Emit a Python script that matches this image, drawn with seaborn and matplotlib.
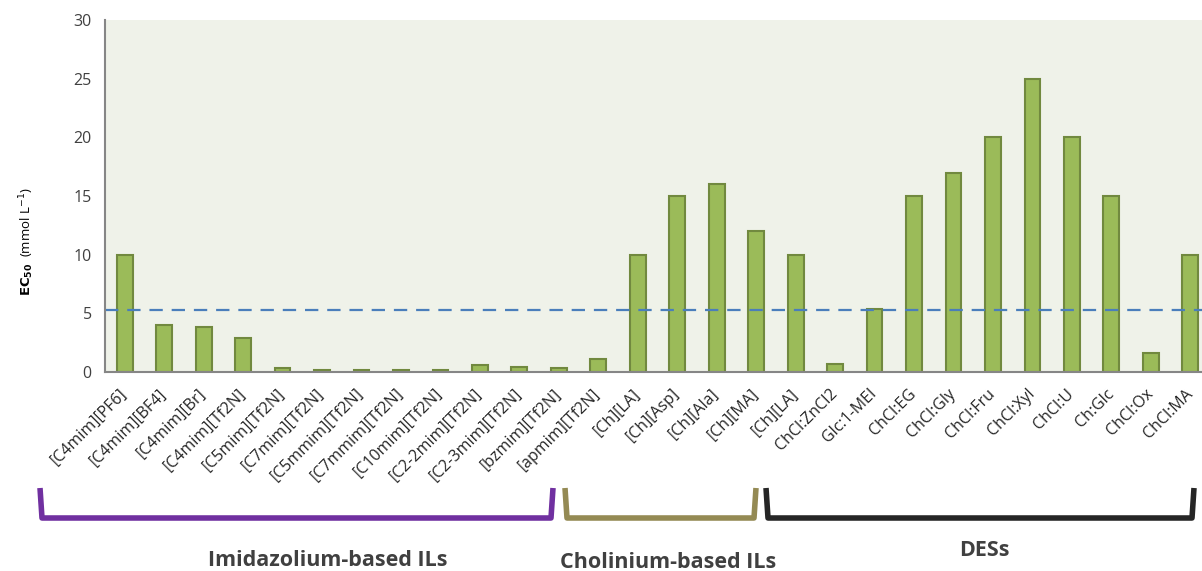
import numpy as np
import pandas as pd
import matplotlib.pyplot as plt
import seaborn as sns
from matplotlib.lines import Line2D

# EC50 values (mmol/L)
compounds = ["[C4mim][PF6]", "[C4mim][BF4]", "[C4mim][Br]", "[C4mim][Tf2N]", "[C5mim][Tf2N]",
             "[C7mim][Tf2N]", "[C5mmim][Tf2N]", "[C7mmim][Tf2N]", "[C10mim][Tf2N]",
             "[C2-2mim][Tf2N]", "[C2-3mim][Tf2N]", "[bzmim][Tf2N]", "[apmim][Tf2N]",
             "[Ch][LA]", "[Ch][Asp]", "[Ch][Ala]", "[Ch][MA]", "[Ch][LA]",
             "ChCl:ZnCl2", "Glc:1-MEI", "ChCl:EG", "ChCl:Gly", "ChCl:Fru", "ChCl:Xyl",
             "ChCl:U", "Ch:Glc", "ChCl:Ox", "ChCl:MA"]
ec50 = [10, 4, 3.85, 2.9, 0.3,
        0.15, 0.15, 0.15, 0.15,
        0.6, 0.45, 0.3, 1.1,
        10, 15, 16, 12, 10,
        0.65, 5.4, 15, 17, 20, 25,
        20, 15, 1.65, 10]
threshold = 5.3

groups = ["Imidazolium-based ILs", "Cholinium-based ILs", "DESs"]
group_colors = ["#7030a0", "#948a54", "#262626"]

df = pd.DataFrame({"idx": np.arange(len(compounds)), "ec50": ec50})

sns.set_style("white")
plt.rcParams['font.family'] = ['Open Sans', 'DejaVu Sans']

fig = plt.figure(figsize=(12.02, 5.71), dpi=100)
ax = fig.add_axes([105 / 1202, 1 - 372 / 571, 1105 / 1202, 352 / 571])
ax.set_facecolor("#eff2e9")

sns.barplot(data=df, x="idx", y="ec50", color="#9bbb59", saturation=1,
            width=0.4, edgecolor="#71893f", linewidth=1.5, ax=ax)
ax.axhline(threshold, color="#4a7ebb", lw=1.6, ls=(0, (6, 4)))

ax.set_ylim(0, 30)
ax.set_xlim(-0.5, len(compounds) - 0.5)
ax.set_yticks(range(0, 31, 5))
ax.set_xticks(range(len(compounds)))
ax.set_xticklabels(compounds, rotation=45, ha="right", va="center",
                   rotation_mode="anchor", fontsize=11.5, color="#262626")
ax.set_xticks(np.arange(-0.5, len(compounds)), minor=True)
ax.tick_params(axis="x", which="major", length=0, pad=14)
ax.tick_params(axis="x", which="minor", length=6, color="#868686", width=1.2)
ax.tick_params(axis="y", length=6, color="#868686", width=1.2, labelsize=11.5,
               labelcolor="#404040")
for s in ["top", "right"]:
    ax.spines[s].set_visible(False)
for s in ["left", "bottom"]:
    ax.spines[s].set_color("#868686")
    ax.spines[s].set_linewidth(1.5)
ax.set_xlabel("")
ax.set_ylabel(r"$\mathbf{EC_{50}}$  (mmol L$^{-1}$)", fontsize=9.5, color="#000000")
ax.yaxis.set_label_coords(-0.062, 0.37)

# group brackets below the axis
W, H = 1202, 571
spans = [(40, 553), (565, 756), (766, 1194)]
label_pos = [(328, 560), (668, 562), (984, 551)]
for (x0, x1), c, g, (lx, ly) in zip(spans, group_colors, groups, label_pos):
    xs = np.array([x0, x0 + 2, x1 - 2, x1]) / W
    ys = 1 - np.array([488, 518, 518, 488]) / H
    fig.add_artist(Line2D(xs, ys, color=c, lw=4, solid_joinstyle="round",
                          solid_capstyle="butt"))
    fig.text(lx / W, 1 - ly / H, g, ha="center", va="center", fontsize=15.5,
             fontweight="bold", color="#404040")

fig.savefig("out.png", dpi=100)
